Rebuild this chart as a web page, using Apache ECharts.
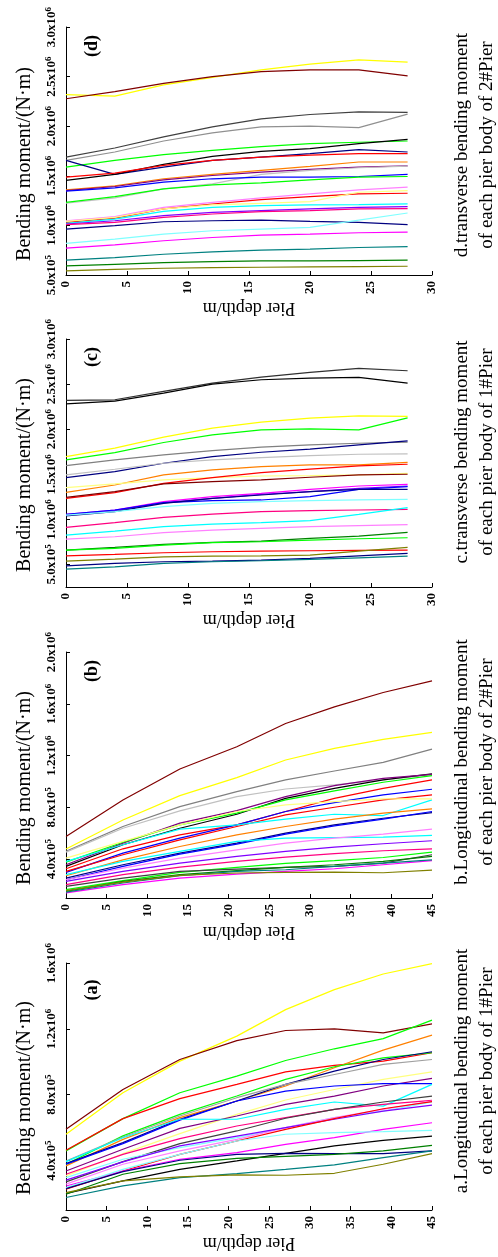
<!DOCTYPE html>
<html>
<head>
<meta charset="utf-8">
<script src="https://cdn.jsdelivr.net/npm/echarts@6/dist/echarts.min.js"></script>
<style>
html,body{margin:0;padding:0;background:#fff;}
#chart{width:498px;height:1257px;}
</style>
</head>
<body>
<div id="chart"></div>
<script>
// Pier depth sampling points (m)
const depthCD = [0, 4, 8, 12, 16, 20, 24, 28];
const depthAB = [0, 7, 14, 21, 27, 33, 39, 45];

// Bending moment tick values (x10^6 N·m)
const ticksD = [0.5, 1.0, 1.5, 2.0, 2.5, 3.0];
const ticksC = [0.5, 1.0, 1.5, 2.0, 2.5, 3.0];
const ticksB = [0.4, 0.8, 1.2, 1.6, 2.0];
const ticksA = [0.4, 0.8, 1.2, 1.6];

// Panel titles / captions
const panelLabels = ['(d)', '(c)', '(b)', '(a)'];
const captions = [
  'd.transverse bending moment\nof each pier body of 2#Pier',
  'c.transverse bending moment\nof each pier body of 1#Pier',
  'b.Longitudinal bending moment\nof each pier body of 2#Pier',
  'a.Longitudinal bending moment\nof each pier body of 1#Pier'
];

// Panel d: transverse bending moment, 2#Pier (x10^6 N·m)
const valuesD = [
  [2.318, 2.304, 2.416, 2.493, 2.568, 2.625, 2.669, 2.645],
  [2.277, 2.348, 2.432, 2.500, 2.551, 2.568, 2.568, 2.507],
  [1.689, 1.780, 1.892, 1.993, 2.074, 2.118, 2.145, 2.139],
  [1.655, 1.740, 1.851, 1.932, 1.993, 2.000, 1.986, 2.122],
  [1.588, 1.655, 1.713, 1.757, 1.794, 1.824, 1.838, 1.851],
  [1.655, 1.514, 1.588, 1.655, 1.689, 1.723, 1.764, 1.740],
  [1.453, 1.514, 1.615, 1.696, 1.747, 1.774, 1.824, 1.868],
  [1.486, 1.527, 1.605, 1.655, 1.689, 1.709, 1.723, 1.723],
  [1.358, 1.399, 1.470, 1.514, 1.554, 1.595, 1.639, 1.639],
  [1.351, 1.392, 1.459, 1.503, 1.537, 1.564, 1.588, 1.601],
  [1.223, 1.277, 1.368, 1.419, 1.514, 1.554, 1.581, 1.598],
  [1.345, 1.378, 1.436, 1.470, 1.486, 1.486, 1.493, 1.514],
  [1.233, 1.291, 1.368, 1.409, 1.429, 1.459, 1.486, 1.493],
  [1.047, 1.088, 1.182, 1.233, 1.277, 1.318, 1.358, 1.385],
  [1.030, 1.074, 1.166, 1.216, 1.260, 1.291, 1.318, 1.324],
  [1.041, 1.081, 1.166, 1.206, 1.223, 1.240, 1.334, 1.351],
  [1.020, 1.064, 1.142, 1.182, 1.199, 1.206, 1.209, 1.216],
  [1.014, 1.047, 1.098, 1.132, 1.149, 1.166, 1.182, 1.189],
  [1.007, 1.030, 1.081, 1.115, 1.139, 1.149, 1.166, 1.169],
  [0.963, 0.997, 1.037, 1.047, 1.054, 1.041, 1.030, 1.007],
  [0.818, 0.861, 0.912, 0.946, 0.963, 0.980, 1.054, 1.125],
  [0.770, 0.804, 0.845, 0.878, 0.902, 0.912, 0.926, 0.932],
  [0.649, 0.676, 0.709, 0.733, 0.750, 0.760, 0.777, 0.787],
  [0.591, 0.608, 0.625, 0.635, 0.642, 0.642, 0.645, 0.649],
  [0.541, 0.557, 0.568, 0.574, 0.578, 0.581, 0.584, 0.588]
];
const colorsD = ['#ffff00','#800000','#404040','#909090','#00ff00','#000080','#000000','#ff0000','#ff8000','#800080',
  '#c0c0c0','#0000ff','#00ff00','#ff80ff','#ff0000','#ffff80','#00ffff','#8000ff','#ff0080','#000080',
  '#80ffff','#ff00ff','#008080','#008000','#808000'];

// Panel c: transverse bending moment, 1#Pier (x10^6 N·m)
const valuesC = [
  [2.319, 2.326, 2.419, 2.511, 2.578, 2.630, 2.674, 2.648],
  [2.281, 2.311, 2.400, 2.500, 2.548, 2.567, 2.574, 2.511],
  [1.696, 1.789, 1.911, 2.011, 2.078, 2.122, 2.148, 2.141],
  [1.659, 1.741, 1.852, 1.937, 1.993, 2.004, 1.993, 2.126],
  [1.596, 1.659, 1.715, 1.763, 1.800, 1.826, 1.844, 1.856],
  [1.463, 1.530, 1.622, 1.696, 1.744, 1.778, 1.826, 1.870],
  [1.493, 1.556, 1.622, 1.659, 1.685, 1.707, 1.722, 1.726],
  [1.300, 1.381, 1.493, 1.548, 1.585, 1.604, 1.604, 1.633],
  [1.352, 1.393, 1.437, 1.463, 1.481, 1.485, 1.493, 1.511],
  [1.233, 1.296, 1.400, 1.463, 1.519, 1.556, 1.593, 1.611],
  [1.244, 1.307, 1.393, 1.419, 1.437, 1.467, 1.493, 1.500],
  [1.056, 1.104, 1.196, 1.252, 1.289, 1.333, 1.370, 1.389],
  [1.048, 1.096, 1.185, 1.233, 1.278, 1.307, 1.344, 1.370],
  [1.056, 1.104, 1.185, 1.207, 1.215, 1.252, 1.333, 1.363],
  [1.037, 1.085, 1.178, 1.233, 1.270, 1.307, 1.333, 1.333],
  [1.048, 1.085, 1.141, 1.178, 1.196, 1.207, 1.215, 1.222],
  [0.911, 0.963, 1.022, 1.059, 1.085, 1.096, 1.104, 1.111],
  [0.826, 0.870, 0.919, 0.948, 0.963, 0.985, 1.056, 1.130],
  [0.781, 0.807, 0.852, 0.881, 0.900, 0.919, 0.930, 0.941],
  [0.659, 0.689, 0.722, 0.744, 0.759, 0.789, 0.815, 0.856],
  [0.659, 0.678, 0.715, 0.741, 0.752, 0.770, 0.785, 0.796],
  [0.596, 0.611, 0.630, 0.641, 0.648, 0.652, 0.656, 0.659],
  [0.537, 0.559, 0.585, 0.593, 0.596, 0.604, 0.648, 0.689],
  [0.485, 0.511, 0.530, 0.537, 0.548, 0.567, 0.596, 0.622],
  [0.448, 0.474, 0.511, 0.530, 0.541, 0.556, 0.574, 0.593]
];
const colorsC = ['#303030','#000000','#ffff00','#00ff00','#808080','#000080','#c0c0c0','#ff8000','#ffff80','#ff0000',
  '#800000','#ff00ff','#8000ff','#0000ff','#000080','#80ffff','#ff0080','#00ffff','#ff80ff','#008000',
  '#00ff00','#ff0000','#808000','#000080','#008080'];

// Panel b: longitudinal bending moment, 2#Pier (x10^6 N·m)
const valuesB = [
  [0.575, 0.857, 1.096, 1.268, 1.448, 1.576, 1.687, 1.777],
  [0.478, 0.703, 0.891, 1.030, 1.166, 1.255, 1.325, 1.379],
  [0.460, 0.652, 0.806, 0.922, 1.012, 1.081, 1.148, 1.250],
  [0.454, 0.639, 0.773, 0.883, 0.942, 0.973, 1.012, 1.050],
  [0.344, 0.511, 0.639, 0.747, 0.870, 0.947, 1.012, 1.058],
  [0.357, 0.524, 0.678, 0.775, 0.883, 0.968, 1.024, 1.055],
  [0.377, 0.531, 0.665, 0.755, 0.858, 0.927, 0.994, 1.045],
  [0.326, 0.480, 0.588, 0.665, 0.768, 0.870, 0.947, 1.012],
  [0.298, 0.447, 0.562, 0.665, 0.768, 0.837, 0.896, 0.940],
  [0.306, 0.434, 0.549, 0.652, 0.742, 0.801, 0.858, 0.896],
  [0.383, 0.511, 0.632, 0.665, 0.709, 0.747, 0.737, 0.858],
  [0.408, 0.537, 0.665, 0.768, 0.819, 0.845, 0.865, 0.865],
  [0.272, 0.395, 0.498, 0.588, 0.652, 0.709, 0.755, 0.788],
  [0.254, 0.357, 0.447, 0.524, 0.601, 0.665, 0.716, 0.760],
  [0.241, 0.344, 0.439, 0.516, 0.593, 0.657, 0.709, 0.768],
  [0.280, 0.383, 0.460, 0.537, 0.562, 0.567, 0.570, 0.583],
  [0.241, 0.331, 0.408, 0.472, 0.524, 0.562, 0.593, 0.632],
  [0.229, 0.306, 0.370, 0.421, 0.460, 0.493, 0.519, 0.542],
  [0.203, 0.280, 0.339, 0.383, 0.416, 0.442, 0.465, 0.480],
  [0.164, 0.234, 0.298, 0.336, 0.367, 0.388, 0.413, 0.454],
  [0.190, 0.254, 0.306, 0.323, 0.336, 0.344, 0.370, 0.434],
  [0.151, 0.229, 0.280, 0.311, 0.336, 0.357, 0.383, 0.421],
  [0.139, 0.203, 0.254, 0.285, 0.306, 0.326, 0.357, 0.388],
  [0.146, 0.216, 0.272, 0.306, 0.318, 0.344, 0.370, 0.395],
  [0.157, 0.223, 0.275, 0.293, 0.298, 0.300, 0.295, 0.316]
];
const colorsB = ['#800000','#ffff00','#808080','#c0c0c0','#000000','#800080','#00ff00','#ff0000','#0000ff','#ff0000',
  '#00ffff','#ffff80','#ff8000','#000080','#0000ff','#00ffff','#ff80ff','#8000ff','#ff0080','#00ff00',
  '#404040','#008000','#ff00ff','#008080','#808000'];

// Panel a: longitudinal bending moment, 1#Pier (x10^6 N·m)
const valuesA = [
  [0.560, 0.812, 1.004, 1.156, 1.317, 1.438, 1.533, 1.596],
  [0.590, 0.832, 1.014, 1.129, 1.190, 1.200, 1.176, 1.230],
  [0.459, 0.655, 0.812, 0.913, 1.008, 1.079, 1.141, 1.253],
  [0.463, 0.655, 0.776, 0.863, 0.939, 0.978, 1.004, 1.055],
  [0.368, 0.529, 0.661, 0.762, 0.853, 0.964, 1.071, 1.162],
  [0.378, 0.550, 0.681, 0.792, 0.893, 0.970, 1.024, 1.055],
  [0.382, 0.509, 0.651, 0.762, 0.863, 0.943, 1.014, 1.061],
  [0.398, 0.543, 0.671, 0.782, 0.863, 0.923, 0.984, 1.014],
  [0.307, 0.442, 0.564, 0.681, 0.768, 0.832, 0.893, 0.939],
  [0.337, 0.469, 0.596, 0.671, 0.741, 0.792, 0.853, 0.899],
  [0.378, 0.503, 0.646, 0.762, 0.822, 0.853, 0.867, 0.867],
  [0.394, 0.539, 0.651, 0.651, 0.711, 0.756, 0.731, 0.863],
  [0.317, 0.438, 0.533, 0.610, 0.661, 0.711, 0.741, 0.766],
  [0.271, 0.394, 0.503, 0.580, 0.657, 0.711, 0.756, 0.792],
  [0.297, 0.408, 0.479, 0.539, 0.600, 0.661, 0.701, 0.756],
  [0.257, 0.378, 0.459, 0.529, 0.600, 0.661, 0.711, 0.762],
  [0.281, 0.392, 0.489, 0.549, 0.600, 0.651, 0.701, 0.737],
  [0.226, 0.337, 0.438, 0.519, 0.590, 0.655, 0.715, 0.758],
  [0.246, 0.337, 0.408, 0.448, 0.499, 0.539, 0.590, 0.630],
  [0.236, 0.347, 0.438, 0.519, 0.560, 0.570, 0.576, 0.584],
  [0.200, 0.277, 0.347, 0.398, 0.444, 0.489, 0.523, 0.549],
  [0.230, 0.333, 0.402, 0.438, 0.444, 0.442, 0.442, 0.459],
  [0.196, 0.317, 0.382, 0.414, 0.426, 0.438, 0.459, 0.493],
  [0.176, 0.246, 0.297, 0.321, 0.347, 0.374, 0.418, 0.459],
  [0.206, 0.277, 0.301, 0.313, 0.311, 0.323, 0.378, 0.442]
];
const colorsA = ['#ffff00','#800000','#00ff00','#ff0000','#ff8000','#00ff00','#000080','#a0a0a0','#ffff80','#800080',
  '#0000ff','#00ffff','#ff0080','#404040','#80ffff','#ff80ff','#8000ff','#ff0000','#ff00ff','#80ffff',
  '#000000','#000080','#008000','#008080','#808000'];

const SERIF = '"Liberation Serif", "DejaVu Serif", serif';

const panels = [
  {depth: depthCD, values: valuesD, colors: colorsD, ticks: ticksD, ymin: 0.5, ymax: 3.0, xmax: 30,
   grid: {left: 66, top: 27, width: 366, height: 248}, label: [92, 46], ytitle: 164, xtitle: 308, cap: 145},
  {depth: depthCD, values: valuesC, colors: colorsC, ticks: ticksC, ymin: 0.25, ymax: 3.0, xmax: 30,
   grid: {left: 66, top: 339, width: 366, height: 248}, label: [92, 357], ytitle: 475, xtitle: 620, cap: 452},
  {depth: depthAB, values: valuesB, colors: colorsB, ticks: ticksB, ymin: 0.1, ymax: 2.0, xmax: 45,
   grid: {left: 66, top: 652, width: 366, height: 246}, label: [92, 671], ytitle: 788, xtitle: 932, cap: 762},
  {depth: depthAB, values: valuesA, colors: colorsA, ticks: ticksA, ymin: 0.1, ymax: 1.6, xmax: 45,
   grid: {left: 66, top: 963, width: 366, height: 247}, label: [92, 990], ytitle: 1098, xtitle: 1243, cap: 1071}
];

function momentLabel(v) {
  const e = v < 1 ? 5 : 6;
  const m = (v < 1 ? v * 10 : v).toFixed(1);
  return '{n|' + m + 'x10}{s|' + e + '}';
}

const grids = [], xAxes = [], yAxes = [], series = [], graphics = [];
panels.forEach((p, i) => {
  grids.push(Object.assign({outerBoundsMode: 'none', containLabel: false}, p.grid));
  xAxes.push({
    type: 'value', gridIndex: i, min: 0, max: p.xmax, interval: 5,
    axisLine: {show: true, onZero: false, lineStyle: {color: '#000', width: 1}},
    axisTick: {show: true, inside: true, length: 4, lineStyle: {color: '#000'}},
    splitLine: {show: false},
    axisLabel: {rotate: 90, margin: 6, color: '#000', fontFamily: SERIF, fontWeight: 'bold', fontSize: 13}
  });
  yAxes.push({
    type: 'value', gridIndex: i, min: p.ymin, max: p.ymax,
    axisLine: {show: true, onZero: false, lineStyle: {color: '#000', width: 1}},
    axisTick: {show: true, inside: true, length: 4, customValues: p.ticks, lineStyle: {color: '#000'}},
    splitLine: {show: false},
    axisLabel: {
      rotate: 90, margin: 7, customValues: p.ticks, formatter: momentLabel,
      rich: {
        n: {color: '#000', fontFamily: SERIF, fontWeight: 'bold', fontSize: 13},
        s: {color: '#000', fontFamily: SERIF, fontWeight: 'bold', fontSize: 9, verticalAlign: 'top', padding: [0, 0, 6, 0]}
      }
    }
  });
  p.values.forEach((vals, j) => {
    series.push({
      type: 'line', xAxisIndex: i, yAxisIndex: i, symbol: 'none', silent: true,
      data: p.depth.map((d, k) => [d, vals[k]]),
      lineStyle: {color: p.colors[j], width: 1.2},
      itemStyle: {color: p.colors[j]}
    });
  });
  graphics.push({
    type: 'text', x: p.label[0], y: p.label[1], rotation: Math.PI / 2,
    style: {text: panelLabels[i], font: 'bold 18px ' + SERIF, fill: '#000', align: 'center', verticalAlign: 'middle'}
  });
  graphics.push({
    type: 'text', x: 25, y: p.ytitle, rotation: Math.PI / 2,
    style: {text: 'Bending moment/(N·m)', font: '20px ' + SERIF, fill: '#000', align: 'center', verticalAlign: 'middle'}
  });
  graphics.push({
    type: 'text', x: 249, y: p.xtitle, rotation: Math.PI,
    style: {text: 'Pier depth/m', font: '18px ' + SERIF, fill: '#000', align: 'center', verticalAlign: 'middle'}
  });
  graphics.push({
    type: 'text', x: 475, y: p.cap, rotation: Math.PI / 2,
    style: {text: captions[i], font: '19px ' + SERIF, lineHeight: 25, fill: '#000', align: 'center', verticalAlign: 'middle'}
  });
});

const chart = echarts.init(document.getElementById('chart'), null, {renderer: 'canvas'});
chart.setOption({
  animation: false,
  backgroundColor: '#fff',
  grid: grids,
  xAxis: xAxes,
  yAxis: yAxes,
  series: series,
  graphic: graphics
});
</script>
</body>
</html>
